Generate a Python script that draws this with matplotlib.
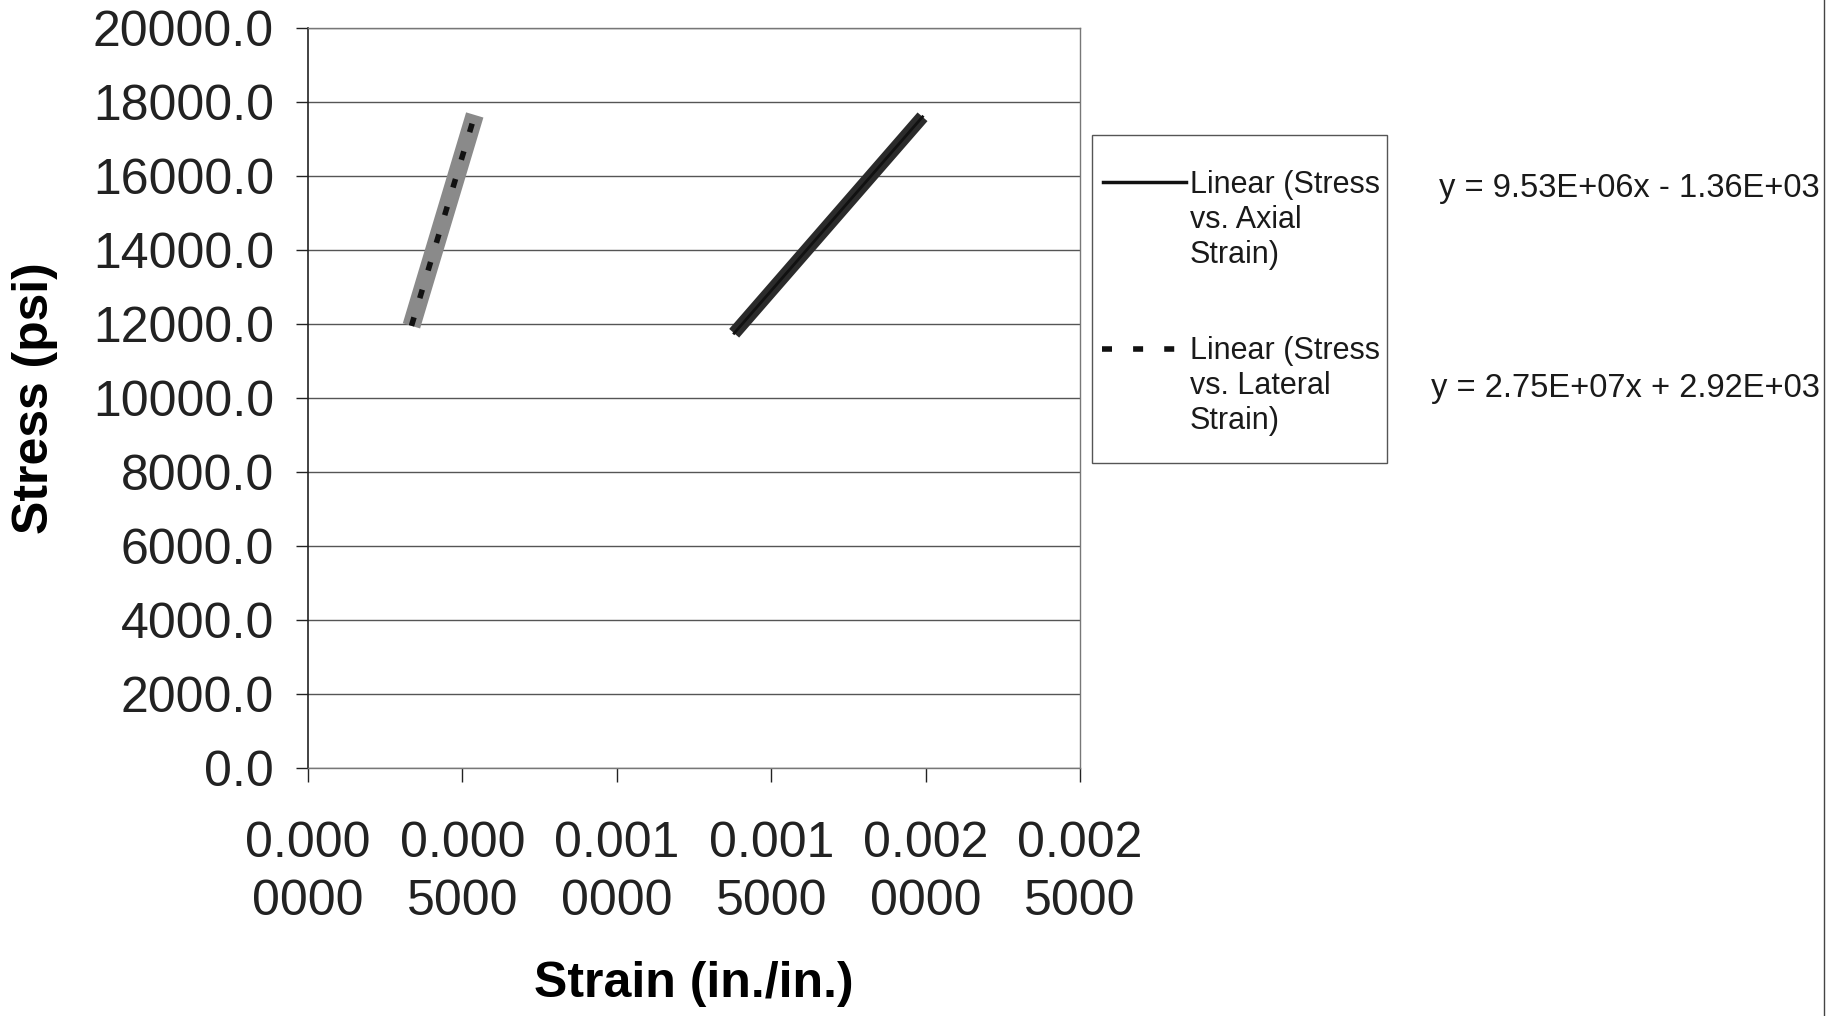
import matplotlib
matplotlib.use("Agg")
import matplotlib.pyplot as plt
from matplotlib.lines import Line2D
from matplotlib.patches import Rectangle
import numpy as np

plt.rcParams['font.family'] = ['Liberation Sans', 'DejaVu Sans']

# values
axial_strain = [0.00138, 0.00199]
axial_stress = [11750, 17600]
lateral_strain = [0.000335, 0.00054]
lateral_stress = [11950, 17650]

x_ticks = [0.0, 0.0005, 0.0010, 0.0015, 0.0020, 0.0025]
x_tick_labels = ["0.000\n0000", "0.000\n5000", "0.001\n0000",
                 "0.001\n5000", "0.002\n0000", "0.002\n5000"]
y_ticks = [0, 2000, 4000, 6000, 8000, 10000, 12000, 14000, 16000, 18000, 20000]

legend_labels = ["Linear (Stress\nvs. Axial\nStrain)",
                 "Linear (Stress\nvs. Lateral\nStrain)"]
equations = ["y = 9.53E+06x - 1.36E+03", "y = 2.75E+07x + 2.92E+03"]

W, H = 1845, 1016
fig = plt.figure(figsize=(W / 100, H / 100), dpi=100)
ax = fig.add_axes([308 / W, 1 - 768 / H, 772 / W, 740 / H])

# data series (thick) with the trendlines drawn on top
ax.plot(lateral_strain, lateral_stress, color='#8a8a8a', lw=13,
        solid_capstyle='butt', zorder=3)
ax.plot(lateral_strain, lateral_stress, color='#111111', lw=4,
        dashes=(1.6, 3.6), zorder=4)
ax.plot(axial_strain, axial_stress, color='#2b2b2b', lw=9.5,
        solid_capstyle='butt', zorder=3)
ax.plot(axial_strain, axial_stress, color='#111111', lw=2, zorder=4)

ax.set_xlim(0, 0.0025)
ax.set_ylim(0, 20000)
ax.set_xticks(x_ticks)
ax.set_xticklabels(x_tick_labels, linespacing=1.35)
ax.set_yticks(y_ticks)
ax.set_yticklabels(['%.1f' % v for v in y_ticks])
ax.tick_params(axis='x', labelsize=36, length=10, width=1, pad=28, colors='#222222')
ax.tick_params(axis='y', labelsize=36, length=8.5, width=1, pad=16, colors='#222222')

ax.grid(axis='y', color='#555555', lw=1)
ax.set_axisbelow(True)
for side in ['top', 'right', 'bottom']:
    ax.spines[side].set_color('#777777')
    ax.spines[side].set_linewidth(1)
ax.spines['left'].set_color('#222222')
ax.spines['left'].set_linewidth(1.2)

ax.set_xlabel('Strain (in./in.)', fontsize=36, fontweight='bold', va='center')
ax.xaxis.set_label_coords(0.5, (768 - 984) / 740)
ax.set_ylabel('Stress (psi)', fontsize=36, fontweight='bold', va='center')
ax.yaxis.set_label_coords((35 - 308) / 772, 0.5)

# legend box in Excel style: handle sits on the first line of the label
fig.patches.append(Rectangle((1092 / W, 1 - 463 / H), 295 / W, 328 / H,
                             transform=fig.transFigure, fill=False,
                             edgecolor='#555555', lw=1))
fig.lines.append(Line2D([1103 / W, 1186 / W], [1 - 182 / H, 1 - 182 / H],
                        transform=fig.transFigure, color='#111111', lw=2.5))
fig.lines.append(Line2D([1102 / W, 1186 / W], [1 - 349 / H, 1 - 349 / H],
                        transform=fig.transFigure, color='#111111', lw=4,
                        dashes=(1.8, 3.8)))
for label, ytop in zip(legend_labels, [170, 336]):
    fig.text(1190 / W, 1 - ytop / H, label, fontsize=22, va='top',
             ha='left', color='#1a1a1a', linespacing=1.22)

for eq, yc in zip(equations, [188, 389]):
    fig.text(1820 / W, 1 - yc / H, eq, fontsize=23.5, ha='right',
             va='center', color='#1a1a1a')

# scan border on the right
fig.lines.append(Line2D([1824 / W, 1824 / W], [0, 1], transform=fig.transFigure,
                        color='#444444', lw=1))

fig.savefig('out.png', dpi=100)
